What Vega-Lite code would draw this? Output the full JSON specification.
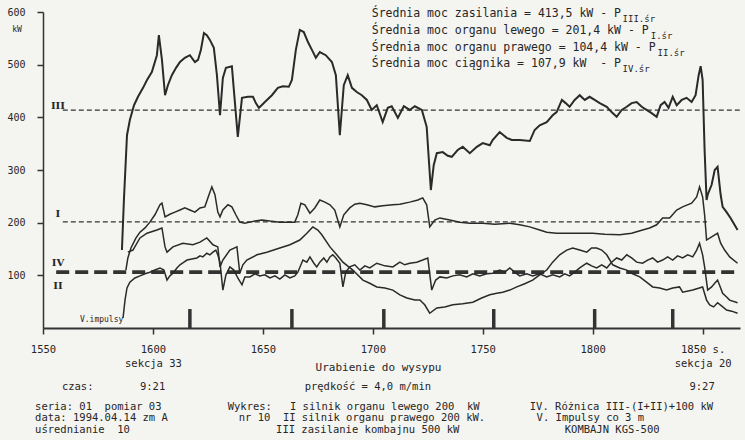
{
"$schema": "https://vega.github.io/schema/vega-lite/v6.json",
"autosize": {"type": "none"},
"padding": {"left": 43, "top": 12, "right": 5, "bottom": 112},
"width": 697,
"height": 316,
"background": "#f4f4f1",
"config": {"view": {"stroke": null}, "text": {"font": "DejaVu Sans Mono", "color": "#262626"}},
"datasets": {
"III": [
{"x":1585.9,"v":148},{"x":1586.8,"v":243},{"x":1588.2,"v":366},{"x":1589.5,"v":395},{"x":1591.4,"v":423},{"x":1593.2,"v":439},{"x":1595.5,"v":456},{"x":1597.3,"v":471},{"x":1599.5,"v":486},{"x":1601.8,"v":518},{"x":1602.7,"v":556},{"x":1604.1,"v":509},{"x":1605.5,"v":442},{"x":1606.8,"v":461},{"x":1608.6,"v":480},{"x":1610.5,"v":494},{"x":1612.3,"v":505},{"x":1614.5,"v":513},{"x":1616.8,"v":518},{"x":1619.1,"v":505},{"x":1620.5,"v":509},{"x":1621.8,"v":528},{"x":1623.2,"v":560},{"x":1624.5,"v":556},{"x":1625.9,"v":547},{"x":1627.7,"v":532},{"x":1629.1,"v":480},{"x":1630.5,"v":404},{"x":1631.8,"v":475},{"x":1633.2,"v":494},{"x":1635.9,"v":497},{"x":1636.8,"v":452},{"x":1638.6,"v":363},{"x":1640.5,"v":437},{"x":1643.2,"v":439},{"x":1645.5,"v":439},{"x":1646.8,"v":427},{"x":1648.2,"v":418},{"x":1650.9,"v":429},{"x":1654.1,"v":442},{"x":1656.8,"v":456},{"x":1659.1,"v":459},{"x":1661.8,"v":458},{"x":1663.2,"v":471},{"x":1665,"v":528},{"x":1666.8,"v":566},{"x":1668.6,"v":562},{"x":1670.5,"v":543},{"x":1672.3,"v":528},{"x":1674.1,"v":513},{"x":1675.9,"v":524},{"x":1678.6,"v":518},{"x":1681.4,"v":505},{"x":1683.2,"v":480},{"x":1685,"v":366},{"x":1686.8,"v":461},{"x":1688.6,"v":480},{"x":1690.5,"v":456},{"x":1692.7,"v":448},{"x":1695,"v":442},{"x":1697.3,"v":433},{"x":1699.5,"v":414},{"x":1701.8,"v":423},{"x":1704.5,"v":391},{"x":1706.8,"v":418},{"x":1708.6,"v":421},{"x":1711.4,"v":399},{"x":1714.1,"v":421},{"x":1716.8,"v":414},{"x":1719.1,"v":421},{"x":1722.3,"v":414},{"x":1724.5,"v":382},{"x":1726.4,"v":262},{"x":1727.7,"v":309},{"x":1729.1,"v":332},{"x":1731.8,"v":334},{"x":1734.1,"v":327},{"x":1735.9,"v":325},{"x":1738.6,"v":338},{"x":1740.9,"v":344},{"x":1744.1,"v":332},{"x":1747.3,"v":344},{"x":1750,"v":351},{"x":1753.2,"v":347},{"x":1754.5,"v":357},{"x":1757.7,"v":372},{"x":1760.9,"v":361},{"x":1763.2,"v":357},{"x":1766.8,"v":357},{"x":1771.4,"v":355},{"x":1773.6,"v":376},{"x":1775.9,"v":385},{"x":1779.1,"v":391},{"x":1781.8,"v":404},{"x":1783.6,"v":410},{"x":1786,"v":433},{"x":1787.7,"v":427},{"x":1789.5,"v":420},{"x":1791.8,"v":433},{"x":1794.1,"v":442},{"x":1796.4,"v":433},{"x":1798.6,"v":439},{"x":1800.9,"v":433},{"x":1803.2,"v":427},{"x":1806.4,"v":420},{"x":1808.6,"v":410},{"x":1810.9,"v":401},{"x":1813.2,"v":414},{"x":1815.5,"v":420},{"x":1817.7,"v":427},{"x":1820,"v":429},{"x":1822.3,"v":420},{"x":1824.5,"v":414},{"x":1826.8,"v":408},{"x":1829.1,"v":401},{"x":1830.9,"v":423},{"x":1832.7,"v":429},{"x":1834.5,"v":418},{"x":1836.4,"v":439},{"x":1838.2,"v":423},{"x":1840.5,"v":433},{"x":1842.7,"v":437},{"x":1845,"v":429},{"x":1846.8,"v":442},{"x":1848.2,"v":480},{"x":1849.1,"v":497},{"x":1850,"v":471},{"x":1850.9,"v":338},{"x":1851.8,"v":243},{"x":1852.3,"v":253},{"x":1854.1,"v":272},{"x":1855.5,"v":300},{"x":1856.8,"v":306},{"x":1858.2,"v":253},{"x":1859.1,"v":230},{"x":1860.9,"v":220},{"x":1862.7,"v":209},{"x":1864.5,"v":196},{"x":1865.9,"v":186}
],
"other": [
{"s":"I","x":1587.7,"v":110},{"s":"I","x":1588.6,"v":133},{"s":"I","x":1590,"v":152},{"s":"I","x":1592.3,"v":171},{"s":"I","x":1594.1,"v":182},{"s":"I","x":1596.4,"v":190},{"s":"I","x":1598.6,"v":201},{"s":"I","x":1600.9,"v":215},{"s":"I","x":1603.2,"v":234},{"s":"I","x":1604.1,"v":237},{"s":"I","x":1605.5,"v":211},{"s":"I","x":1607.7,"v":216},{"s":"I","x":1610,"v":220},{"s":"I","x":1612.3,"v":224},{"s":"I","x":1614.5,"v":228},{"s":"I","x":1616.8,"v":224},{"s":"I","x":1619.1,"v":220},{"s":"I","x":1621.4,"v":228},{"s":"I","x":1623.6,"v":230},{"s":"I","x":1625.5,"v":253},{"s":"I","x":1626.8,"v":268},{"s":"I","x":1628.2,"v":253},{"s":"I","x":1629.5,"v":220},{"s":"I","x":1630.5,"v":211},{"s":"I","x":1631.8,"v":224},{"s":"I","x":1634.1,"v":234},{"s":"I","x":1635.9,"v":230},{"s":"I","x":1637.7,"v":215},{"s":"I","x":1639.5,"v":201},{"s":"I","x":1641.8,"v":199},{"s":"I","x":1644.1,"v":201},{"s":"I","x":1646.4,"v":203},{"s":"I","x":1649.5,"v":205},{"s":"I","x":1653.2,"v":203},{"s":"I","x":1657.7,"v":201},{"s":"I","x":1662.3,"v":201},{"s":"I","x":1664.5,"v":201},{"s":"I","x":1665.9,"v":215},{"s":"I","x":1667.3,"v":237},{"s":"I","x":1669.1,"v":234},{"s":"I","x":1671.4,"v":218},{"s":"I","x":1673.6,"v":228},{"s":"I","x":1675.9,"v":243},{"s":"I","x":1678.2,"v":239},{"s":"I","x":1680.5,"v":234},{"s":"I","x":1682.7,"v":224},{"s":"I","x":1685,"v":192},{"s":"I","x":1686.8,"v":215},{"s":"I","x":1689.5,"v":228},{"s":"I","x":1691.8,"v":235},{"s":"I","x":1694.1,"v":237},{"s":"I","x":1697.3,"v":234},{"s":"I","x":1700.9,"v":230},{"s":"I","x":1704.5,"v":232},{"s":"I","x":1709.1,"v":234},{"s":"I","x":1712.3,"v":235},{"s":"I","x":1716.8,"v":239},{"s":"I","x":1720.5,"v":243},{"s":"I","x":1722.7,"v":247},{"s":"I","x":1724.5,"v":234},{"s":"I","x":1725.9,"v":192},{"s":"I","x":1728.2,"v":205},{"s":"I","x":1730.5,"v":209},{"s":"I","x":1735,"v":205},{"s":"I","x":1739.5,"v":201},{"s":"I","x":1744.1,"v":199},{"s":"I","x":1750,"v":199},{"s":"I","x":1755.5,"v":197},{"s":"I","x":1762.3,"v":199},{"s":"I","x":1766.8,"v":196},{"s":"I","x":1771.4,"v":192},{"s":"I","x":1775.9,"v":186},{"s":"I","x":1779.1,"v":182},{"s":"I","x":1783.6,"v":180},{"s":"I","x":1788.2,"v":180},{"s":"I","x":1794.1,"v":180},{"s":"I","x":1800,"v":180},{"s":"I","x":1805.5,"v":178},{"s":"I","x":1812.3,"v":177},{"s":"I","x":1817.7,"v":180},{"s":"I","x":1822.7,"v":186},{"s":"I","x":1825.9,"v":190},{"s":"I","x":1829.1,"v":196},{"s":"I","x":1831.8,"v":209},{"s":"I","x":1835,"v":209},{"s":"I","x":1838.2,"v":224},{"s":"I","x":1840.9,"v":230},{"s":"I","x":1845,"v":237},{"s":"I","x":1847.3,"v":249},{"s":"I","x":1848.6,"v":268},{"s":"I","x":1850,"v":249},{"s":"I","x":1850.9,"v":215},{"s":"I","x":1851.8,"v":167},{"s":"I","x":1854.1,"v":173},{"s":"I","x":1856.8,"v":180},{"s":"I","x":1858.2,"v":161},{"s":"I","x":1860,"v":148},{"s":"I","x":1862.3,"v":135},{"s":"I","x":1865.9,"v":123},
{"s":"II","x":1588.6,"v":144},{"s":"II","x":1590.9,"v":148},{"s":"II","x":1594.1,"v":171},{"s":"II","x":1597.3,"v":180},{"s":"II","x":1601.8,"v":186},{"s":"II","x":1604.1,"v":190},{"s":"II","x":1605.5,"v":154},{"s":"II","x":1606.4,"v":144},{"s":"II","x":1609.1,"v":154},{"s":"II","x":1613.6,"v":161},{"s":"II","x":1618.2,"v":158},{"s":"II","x":1621.4,"v":163},{"s":"II","x":1624.5,"v":171},{"s":"II","x":1627.3,"v":158},{"s":"II","x":1629.5,"v":154},{"s":"II","x":1630.5,"v":116},{"s":"II","x":1631.8,"v":129},{"s":"II","x":1635,"v":148},{"s":"II","x":1638.2,"v":154},{"s":"II","x":1639.5,"v":104},{"s":"II","x":1640.9,"v":120},{"s":"II","x":1642.7,"v":129},{"s":"II","x":1647.3,"v":139},{"s":"II","x":1651.8,"v":144},{"s":"II","x":1657.7,"v":152},{"s":"II","x":1662.3,"v":158},{"s":"II","x":1666.8,"v":167},{"s":"II","x":1670,"v":180},{"s":"II","x":1672.7,"v":192},{"s":"II","x":1675,"v":186},{"s":"II","x":1676.8,"v":177},{"s":"II","x":1680.5,"v":154},{"s":"II","x":1683.6,"v":139},{"s":"II","x":1686.4,"v":125},{"s":"II","x":1690.9,"v":110},{"s":"II","x":1695.5,"v":91},{"s":"II","x":1698.6,"v":85},{"s":"II","x":1701.8,"v":78},{"s":"II","x":1705.5,"v":76},{"s":"II","x":1709.1,"v":72},{"s":"II","x":1712.3,"v":63},{"s":"II","x":1715.5,"v":57},{"s":"II","x":1719.1,"v":53},{"s":"II","x":1721.4,"v":53},{"s":"II","x":1723.6,"v":44},{"s":"II","x":1725.9,"v":28},{"s":"II","x":1729.1,"v":38},{"s":"II","x":1732.7,"v":40},{"s":"II","x":1736.4,"v":44},{"s":"II","x":1740.9,"v":46},{"s":"II","x":1745.5,"v":49},{"s":"II","x":1749.5,"v":57},{"s":"II","x":1753.2,"v":63},{"s":"II","x":1756.4,"v":66},{"s":"II","x":1759.1,"v":68},{"s":"II","x":1762.3,"v":72},{"s":"II","x":1765.5,"v":78},{"s":"II","x":1769.1,"v":84},{"s":"II","x":1772.7,"v":91},{"s":"II","x":1775.9,"v":101},{"s":"II","x":1779.1,"v":110},{"s":"II","x":1781.8,"v":125},{"s":"II","x":1785,"v":139},{"s":"II","x":1788.2,"v":148},{"s":"II","x":1790.9,"v":152},{"s":"II","x":1794.1,"v":148},{"s":"II","x":1797.3,"v":144},{"s":"II","x":1799.5,"v":152},{"s":"II","x":1801.8,"v":152},{"s":"II","x":1804.1,"v":148},{"s":"II","x":1806.4,"v":139},{"s":"II","x":1809.1,"v":120},{"s":"II","x":1812.3,"v":114},{"s":"II","x":1815.5,"v":110},{"s":"II","x":1818.2,"v":103},{"s":"II","x":1821.4,"v":97},{"s":"II","x":1824.5,"v":87},{"s":"II","x":1827.3,"v":78},{"s":"II","x":1830.5,"v":76},{"s":"II","x":1833.6,"v":72},{"s":"II","x":1836.4,"v":76},{"s":"II","x":1839.5,"v":78},{"s":"II","x":1840.9,"v":68},{"s":"II","x":1845.5,"v":72},{"s":"II","x":1850,"v":78},{"s":"II","x":1851.8,"v":53},{"s":"II","x":1853.2,"v":44},{"s":"II","x":1855,"v":40},{"s":"II","x":1856.8,"v":48},{"s":"II","x":1858.6,"v":42},{"s":"II","x":1860.9,"v":34},{"s":"II","x":1863.2,"v":32},{"s":"II","x":1865.9,"v":28},
{"s":"IV","x":1586.4,"v":19},{"s":"IV","x":1587.3,"v":53},{"s":"IV","x":1588.2,"v":76},{"s":"IV","x":1589.5,"v":87},{"s":"IV","x":1591.8,"v":95},{"s":"IV","x":1594.1,"v":99},{"s":"IV","x":1596.4,"v":103},{"s":"IV","x":1598.6,"v":106},{"s":"IV","x":1600.9,"v":110},{"s":"IV","x":1603.2,"v":114},{"s":"IV","x":1605,"v":110},{"s":"IV","x":1606.4,"v":91},{"s":"IV","x":1607.7,"v":99},{"s":"IV","x":1609.1,"v":104},{"s":"IV","x":1610.9,"v":114},{"s":"IV","x":1612.3,"v":120},{"s":"IV","x":1614.1,"v":125},{"s":"IV","x":1615.5,"v":129},{"s":"IV","x":1617.7,"v":131},{"s":"IV","x":1620,"v":133},{"s":"IV","x":1621.4,"v":137},{"s":"IV","x":1622.7,"v":135},{"s":"IV","x":1624.5,"v":142},{"s":"IV","x":1625.9,"v":139},{"s":"IV","x":1627.3,"v":144},{"s":"IV","x":1628.6,"v":148},{"s":"IV","x":1629.5,"v":139},{"s":"IV","x":1630.5,"v":125},{"s":"IV","x":1631.8,"v":72},{"s":"IV","x":1633.2,"v":101},{"s":"IV","x":1635,"v":116},{"s":"IV","x":1636.8,"v":110},{"s":"IV","x":1638.6,"v":95},{"s":"IV","x":1640.5,"v":82},{"s":"IV","x":1641.8,"v":97},{"s":"IV","x":1644.1,"v":97},{"s":"IV","x":1646.4,"v":103},{"s":"IV","x":1648.6,"v":99},{"s":"IV","x":1650.9,"v":101},{"s":"IV","x":1653.2,"v":95},{"s":"IV","x":1655.5,"v":99},{"s":"IV","x":1657.7,"v":93},{"s":"IV","x":1660,"v":101},{"s":"IV","x":1662.3,"v":95},{"s":"IV","x":1664.5,"v":99},{"s":"IV","x":1665.9,"v":106},{"s":"IV","x":1668.2,"v":129},{"s":"IV","x":1670,"v":125},{"s":"IV","x":1671.4,"v":135},{"s":"IV","x":1673.2,"v":123},{"s":"IV","x":1674.5,"v":116},{"s":"IV","x":1675.9,"v":125},{"s":"IV","x":1677.7,"v":133},{"s":"IV","x":1679.1,"v":125},{"s":"IV","x":1680.5,"v":135},{"s":"IV","x":1681.8,"v":139},{"s":"IV","x":1683.2,"v":133},{"s":"IV","x":1685,"v":123},{"s":"IV","x":1686.4,"v":78},{"s":"IV","x":1687.7,"v":106},{"s":"IV","x":1689.5,"v":116},{"s":"IV","x":1691.8,"v":120},{"s":"IV","x":1694.1,"v":110},{"s":"IV","x":1696.4,"v":118},{"s":"IV","x":1698.6,"v":114},{"s":"IV","x":1701.8,"v":123},{"s":"IV","x":1705.5,"v":118},{"s":"IV","x":1709.1,"v":116},{"s":"IV","x":1712.3,"v":125},{"s":"IV","x":1714.5,"v":120},{"s":"IV","x":1716.8,"v":123},{"s":"IV","x":1720,"v":125},{"s":"IV","x":1722.7,"v":129},{"s":"IV","x":1725,"v":133},{"s":"IV","x":1726.8,"v":72},{"s":"IV","x":1728.6,"v":91},{"s":"IV","x":1730.5,"v":97},{"s":"IV","x":1733.6,"v":95},{"s":"IV","x":1736.4,"v":99},{"s":"IV","x":1739.5,"v":101},{"s":"IV","x":1742.7,"v":97},{"s":"IV","x":1745.5,"v":103},{"s":"IV","x":1748.6,"v":99},{"s":"IV","x":1751.8,"v":103},{"s":"IV","x":1754.5,"v":104},{"s":"IV","x":1757.7,"v":110},{"s":"IV","x":1760,"v":106},{"s":"IV","x":1762.3,"v":114},{"s":"IV","x":1764.5,"v":106},{"s":"IV","x":1766.8,"v":99},{"s":"IV","x":1770,"v":103},{"s":"IV","x":1772.7,"v":99},{"s":"IV","x":1775.9,"v":103},{"s":"IV","x":1779.1,"v":97},{"s":"IV","x":1781.8,"v":101},{"s":"IV","x":1785,"v":97},{"s":"IV","x":1787.3,"v":103},{"s":"IV","x":1789.5,"v":99},{"s":"IV","x":1791.8,"v":106},{"s":"IV","x":1794.1,"v":114},{"s":"IV","x":1797.3,"v":123},{"s":"IV","x":1799.5,"v":118},{"s":"IV","x":1801.8,"v":114},{"s":"IV","x":1804.1,"v":120},{"s":"IV","x":1806.4,"v":114},{"s":"IV","x":1808.6,"v":125},{"s":"IV","x":1810.9,"v":133},{"s":"IV","x":1813.2,"v":129},{"s":"IV","x":1815.5,"v":139},{"s":"IV","x":1817.7,"v":133},{"s":"IV","x":1820,"v":125},{"s":"IV","x":1822.7,"v":123},{"s":"IV","x":1825,"v":129},{"s":"IV","x":1827.3,"v":133},{"s":"IV","x":1829.5,"v":125},{"s":"IV","x":1831.8,"v":129},{"s":"IV","x":1834.1,"v":135},{"s":"IV","x":1836.4,"v":129},{"s":"IV","x":1838.6,"v":137},{"s":"IV","x":1840.9,"v":133},{"s":"IV","x":1843.2,"v":139},{"s":"IV","x":1845.5,"v":135},{"s":"IV","x":1847.3,"v":148},{"s":"IV","x":1848.6,"v":161},{"s":"IV","x":1850,"v":139},{"s":"IV","x":1850.9,"v":116},{"s":"IV","x":1852.3,"v":72},{"s":"IV","x":1854.1,"v":78},{"s":"IV","x":1855.5,"v":85},{"s":"IV","x":1856.8,"v":91},{"s":"IV","x":1858.2,"v":76},{"s":"IV","x":1859.1,"v":66},{"s":"IV","x":1860.9,"v":59},{"s":"IV","x":1862.3,"v":53},{"s":"IV","x":1865.9,"v":48}
],
"means": [
{"s":"III","x":1559,"v":413.5},{"s":"III","x":1867,"v":413.5},
{"s":"I","x":1559,"v":201.4},{"s":"I","x":1852,"v":201.4}
],
"means2": [
{"s":"II","x":1556,"v":104.4},{"s":"II","x":1867,"v":104.4},
{"s":"IV","x":1556,"v":107.9},{"s":"IV","x":1867,"v":107.9}
],
"imp": [{"x":1616.8,"v":36},{"x":1663.2,"v":36},{"x":1705,"v":36},{"x":1755,"v":36},{"x":1800.9,"v":36},{"x":1836.4,"v":36}],
"hdr": [
{"x":1699.5,"v":596,"t":"Średnia moc zasilania = 413,5 kW - P"},
{"x":1699.5,"v":564,"t":"Średnia moc organu lewego = 201,4 kW - P"},
{"x":1699.5,"v":532,"t":"Średnia moc organu prawego = 104,4 kW - P"},
{"x":1699.5,"v":501,"t":"Średnia moc ciągnika = 107,9 kW\u00a0 - P"}
],
"sub": [
{"x":1813.6,"v":587,"t":"III.śr"},
{"x":1826.4,"v":555,"t":"I.śr"},
{"x":1829.5,"v":523,"t":"II.śr"},
{"x":1813.6,"v":492,"t":"IV.śr"}
],
"bot": [
{"x":1558.6,"v":-112,"t":"czas:"},
{"x":1594.1,"v":-112,"t":"9:21"},
{"x":1669,"v":-112,"t":"prędkość = 4,0 m/min"},
{"x":1844,"v":-112,"t":"9:27"},
{"x":1546.4,"v":-150,"t":"seria: 01\u00a0 pomiar 03"},
{"x":1546.4,"v":-171,"t":"data: 1994.04.14 zm A"},
{"x":1546.4,"v":-194,"t":"uśrednianie\u00a0 10"},
{"x":1634,"v":-150,"t":"Wykres:"},
{"x":1639,"v":-171,"t":"nr 10"},
{"x":1662.3,"v":-150,"t":"I silnik organu lewego 200\u00a0 kW"},
{"x":1659.1,"v":-171,"t":"II silnik organu prawego 200 kW."},
{"x":1656,"v":-194,"t":"III zasilanie kombajnu 500 kW"},
{"x":1771.4,"v":-150,"t":"IV. Różnica III-(I+II)+100 kW"},
{"x":1774.5,"v":-171,"t":"V. Impulsy co 3 m"},
{"x":1787.3,"v":-194,"t":"KOMBAJN KGS-500"}
],
"lab": [
{"x":1556.8,"v":422,"t":"III"},
{"x":1556.8,"v":217,"t":"I"},
{"x":1556.8,"v":124,"t":"IV"},
{"x":1556.8,"v":80,"t":"II"}
],
"small": [
{"x":1536,"v":566,"t":"kW"},
{"x":1566.8,"v":15,"t":"V.impulsy"}
]
},
"encoding": {
"x": {"field": "x", "type": "quantitative", "scale": {"domain": [1550, 1867], "nice": false, "zero": false},
 "axis": {"values": [1550,1600,1650,1700,1750,1800,1850], "format": "d", "grid": false, "tickSize": 6, "tickWidth": 1.5, "tickColor": "#333", "domainColor": "#333", "domainWidth": 2, "labelPadding": 10, "labelFont": "DejaVu Sans Mono", "labelFontSize": 10.5, "labelColor": "#262626", "labelOverlap": false, "labelBaseline": "top", "labelLineHeight": 14, "labelFlush": false,
 "labelExpr": "datum.value == 1600 ? ['1600','sekcja 33'] : datum.value == 1850 ? ['\u00a0\u00a0\u00a01850 s.','sekcja 20'] : datum.label",
 "title": "Urabienie do wysypu", "titleFont": "DejaVu Sans Mono", "titleFontWeight": "normal", "titleFontSize": 11, "titleColor": "#262626", "titleX": 335, "titleY": 39, "titleBaseline": "middle"}},
"y": {"field": "v", "type": "quantitative", "scale": {"domain": [0, 600], "nice": false},
 "axis": {"values": [100,200,300,400,500,600], "grid": false, "tickSize": 6, "tickWidth": 1.5, "tickColor": "#333", "domainColor": "#333", "domainWidth": 1.5, "labelPadding": 12, "labelFont": "DejaVu Sans Mono", "labelFontSize": 10, "labelColor": "#262626", "title": null}}
},
"layer": [
{"data": {"name": "means"}, "mark": {"type": "line", "color": "#333", "strokeWidth": 1.3, "strokeDash": [5, 3]}, "encoding": {"detail": {"field": "s"}}},
{"data": {"name": "means2"}, "mark": {"type": "line", "color": "#333", "strokeWidth": 2, "strokeDash": [13, 6]}, "encoding": {"detail": {"field": "s"}}},
{"data": {"name": "other"}, "mark": {"type": "line", "color": "#2a2a2a", "strokeWidth": 1.5}, "encoding": {"detail": {"field": "s"}}},
{"data": {"name": "III"}, "mark": {"type": "line", "color": "#2a2a2a", "strokeWidth": 2}, "encoding": {}},
{"data": {"name": "imp"}, "mark": {"type": "rule", "color": "#333", "strokeWidth": 3.5}, "encoding": {"y": {"datum": 0}, "y2": {"field": "v"}}},
{"data": {"name": "hdr"}, "mark": {"type": "text", "align": "left", "baseline": "middle", "fontSize": 11.5}, "encoding": {"text": {"field": "t"}}},
{"data": {"name": "sub"}, "mark": {"type": "text", "align": "left", "baseline": "middle", "fontSize": 9}, "encoding": {"text": {"field": "t"}}},
{"data": {"name": "bot"}, "mark": {"type": "text", "align": "left", "baseline": "middle", "fontSize": 10.5}, "encoding": {"text": {"field": "t"}}},
{"data": {"name": "lab"}, "mark": {"type": "text", "align": "center", "baseline": "middle", "fontSize": 10, "font": "DejaVu Serif", "fontWeight": "bold"}, "encoding": {"text": {"field": "t"}}},
{"data": {"name": "small"}, "mark": {"type": "text", "align": "left", "baseline": "middle", "fontSize": 8}, "encoding": {"text": {"field": "t"}}}
]
}
